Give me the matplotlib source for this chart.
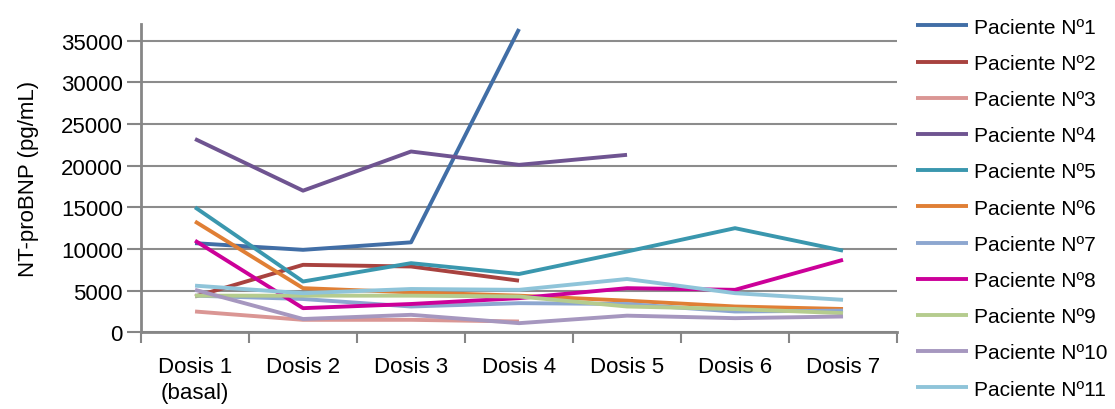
import numpy as np
import matplotlib.pyplot as plt

plt.rcParams['font.family'] = ['Liberation Sans', 'DejaVu Sans']
fs = 16

dosis = ['Dosis 1\n(basal)', 'Dosis 2', 'Dosis 3', 'Dosis 4', 'Dosis 5', 'Dosis 6', 'Dosis 7']

p1 = [10700, 9900, 10800, 36400]
p2 = [4300, 8100, 7900, 6200]
p3 = [2500, 1500, 1500, 1300]
p4 = [23200, 17000, 21700, 20100, 21300]
p5 = [15000, 6100, 8300, 7000, 9700, 12500, 9800]
p6 = [13300, 5300, 4800, 4400, 3800, 3100, 2800]
p7 = [4400, 4000, 3100, 3500, 3400, 2500, 2600]
p8 = [11000, 2900, 3400, 4100, 5300, 5100, 8700]
p9 = [4400, 4400, 4400, 4300, 3100, 2800, 2300]
p10 = [5100, 1600, 2100, 1100, 2000, 1700, 1900]
p11 = [5600, 4700, 5200, 5100, 6400, 4700, 3900]

pacientes = [p1, p2, p3, p4, p5, p6, p7, p8, p9, p10, p11]
nombres = ['Paciente Nº%d' % (i + 1) for i in range(len(pacientes))]
colores = ['#416EA6', '#A8423F', '#DA9694', '#6F5491', '#3A97AE', '#E07F35',
           '#8DA7D0', '#CC0099', '#B5CC8E', '#A697BF', '#8FC4D9']

fig = plt.figure(figsize=(11.15, 4.10), dpi=100)
ax = fig.add_axes([0.1265, 0.187, 0.678, 0.752])

for vals, nombre, c in zip(pacientes, nombres, colores):
    x = np.arange(len(vals))
    ax.plot(x, vals, color=c, lw=2.8, label=nombre, solid_capstyle='butt')

ax.set_xlim(-0.5, len(dosis) - 0.5)
ax.set_ylim(0, 37000)
ax.set_yticks(np.arange(0, 35001, 5000))
ax.set_xticks(np.arange(len(dosis)))
ax.set_xticklabels(dosis, fontsize=fs, linespacing=1.3)
ax.set_xticks(np.arange(-0.5, len(dosis)), minor=True)
ax.tick_params(axis='x', which='major', length=0, pad=17)
ax.tick_params(axis='x', which='minor', length=8, width=1.5, color='#868686')
ax.tick_params(axis='y', length=10, width=1.5, color='#868686', labelsize=fs, pad=3)
ax.grid(axis='y', color='#8C8C8C', lw=1.5)
ax.set_axisbelow(True)

for s in ['top', 'right']:
    ax.spines[s].set_visible(False)
for s in ['left', 'bottom']:
    ax.spines[s].set_color('#868686')
    ax.spines[s].set_linewidth(2)

ax.set_ylabel('NT-proBNP (pg/mL)', fontsize=fs, labelpad=16)

leg = fig.legend(loc='upper left', bbox_to_anchor=(0.805, 1.0), frameon=False,
                 fontsize=15, handlelength=2.5, handletextpad=0.25, labelspacing=0.825)

fig.savefig('out.png', dpi=100)
